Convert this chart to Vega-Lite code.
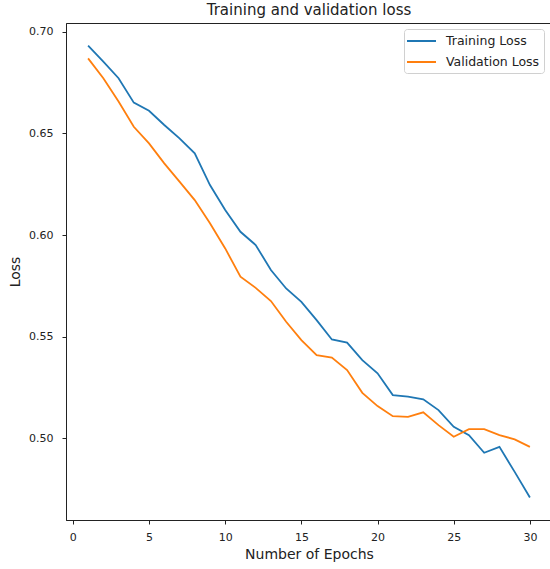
{
  "$schema": "https://vega.github.io/schema/vega-lite/v6.json",
  "width": 486,
  "height": 497,
  "autosize": {"type": "none"},
  "padding": {"left": 66, "top": 23, "right": 0, "bottom": 49},
  "background": "white",
  "title": {"text": "Training and validation loss", "fontSize": 15, "font": "DejaVu Sans", "fontWeight": "normal", "color": "#222", "anchor": "middle", "frame": "group", "offset": 5},
  "data": {"values": [
    {"epoch": 1, "series": "Training Loss", "loss": 0.6933},
    {"epoch": 2, "series": "Training Loss", "loss": 0.6854},
    {"epoch": 3, "series": "Training Loss", "loss": 0.6772},
    {"epoch": 4, "series": "Training Loss", "loss": 0.6652},
    {"epoch": 5, "series": "Training Loss", "loss": 0.6612},
    {"epoch": 6, "series": "Training Loss", "loss": 0.6542},
    {"epoch": 7, "series": "Training Loss", "loss": 0.6476},
    {"epoch": 8, "series": "Training Loss", "loss": 0.6402},
    {"epoch": 9, "series": "Training Loss", "loss": 0.6246},
    {"epoch": 10, "series": "Training Loss", "loss": 0.6123},
    {"epoch": 11, "series": "Training Loss", "loss": 0.6016},
    {"epoch": 12, "series": "Training Loss", "loss": 0.5951},
    {"epoch": 13, "series": "Training Loss", "loss": 0.5828},
    {"epoch": 14, "series": "Training Loss", "loss": 0.5737},
    {"epoch": 15, "series": "Training Loss", "loss": 0.5671},
    {"epoch": 16, "series": "Training Loss", "loss": 0.5581},
    {"epoch": 17, "series": "Training Loss", "loss": 0.5486},
    {"epoch": 18, "series": "Training Loss", "loss": 0.5470},
    {"epoch": 19, "series": "Training Loss", "loss": 0.5384},
    {"epoch": 20, "series": "Training Loss", "loss": 0.5319},
    {"epoch": 21, "series": "Training Loss", "loss": 0.5212},
    {"epoch": 22, "series": "Training Loss", "loss": 0.5204},
    {"epoch": 23, "series": "Training Loss", "loss": 0.5191},
    {"epoch": 24, "series": "Training Loss", "loss": 0.5138},
    {"epoch": 25, "series": "Training Loss", "loss": 0.5056},
    {"epoch": 26, "series": "Training Loss", "loss": 0.5015},
    {"epoch": 27, "series": "Training Loss", "loss": 0.4928},
    {"epoch": 28, "series": "Training Loss", "loss": 0.4957},
    {"epoch": 29, "series": "Training Loss", "loss": 0.4834},
    {"epoch": 30, "series": "Training Loss", "loss": 0.4708},
    {"epoch": 1, "series": "Validation Loss", "loss": 0.6870},
    {"epoch": 2, "series": "Validation Loss", "loss": 0.6772},
    {"epoch": 3, "series": "Validation Loss", "loss": 0.6657},
    {"epoch": 4, "series": "Validation Loss", "loss": 0.6533},
    {"epoch": 5, "series": "Validation Loss", "loss": 0.6451},
    {"epoch": 6, "series": "Validation Loss", "loss": 0.6353},
    {"epoch": 7, "series": "Validation Loss", "loss": 0.6263},
    {"epoch": 8, "series": "Validation Loss", "loss": 0.6172},
    {"epoch": 9, "series": "Validation Loss", "loss": 0.6058},
    {"epoch": 10, "series": "Validation Loss", "loss": 0.5934},
    {"epoch": 11, "series": "Validation Loss", "loss": 0.5795},
    {"epoch": 12, "series": "Validation Loss", "loss": 0.5740},
    {"epoch": 13, "series": "Validation Loss", "loss": 0.5675},
    {"epoch": 14, "series": "Validation Loss", "loss": 0.5573},
    {"epoch": 15, "series": "Validation Loss", "loss": 0.5483},
    {"epoch": 16, "series": "Validation Loss", "loss": 0.5409},
    {"epoch": 17, "series": "Validation Loss", "loss": 0.5397},
    {"epoch": 18, "series": "Validation Loss", "loss": 0.5335},
    {"epoch": 19, "series": "Validation Loss", "loss": 0.5223},
    {"epoch": 20, "series": "Validation Loss", "loss": 0.5158},
    {"epoch": 21, "series": "Validation Loss", "loss": 0.5108},
    {"epoch": 22, "series": "Validation Loss", "loss": 0.5105},
    {"epoch": 23, "series": "Validation Loss", "loss": 0.5127},
    {"epoch": 24, "series": "Validation Loss", "loss": 0.5064},
    {"epoch": 25, "series": "Validation Loss", "loss": 0.5007},
    {"epoch": 26, "series": "Validation Loss", "loss": 0.5044},
    {"epoch": 27, "series": "Validation Loss", "loss": 0.5044},
    {"epoch": 28, "series": "Validation Loss", "loss": 0.5015},
    {"epoch": 29, "series": "Validation Loss", "loss": 0.4994},
    {"epoch": 30, "series": "Validation Loss", "loss": 0.4957}
  ]},
  "mark": {"type": "line", "strokeWidth": 1.8},
  "encoding": {
    "x": {"field": "epoch", "type": "quantitative", "title": "Number of Epochs",
      "scale": {"domain": [-0.45, 31.45], "nice": false, "zero": false},
      "axis": {"values": [0, 5, 10, 15, 20, 25, 30], "format": "d", "titlePadding": 5}},
    "y": {"field": "loss", "type": "quantitative", "title": "Loss",
      "scale": {"domain": [0.4597, 0.7044], "nice": false, "zero": false},
      "axis": {"values": [0.5, 0.55, 0.6, 0.65, 0.7], "format": ".2f", "labelPadding": 9, "titlePadding": 6}},
    "color": {"field": "series", "type": "nominal",
      "scale": {"domain": ["Training Loss", "Validation Loss"], "range": ["#1f77b4", "#ff7f0e"]},
      "legend": {"title": null, "orient": "none", "legendX": 338, "legendY": 6,
        "symbolType": "M-1.29,0H2.86", "symbolSize": 196, "symbolStrokeWidth": 2,
        "labelFontSize": 12.5, "labelOffset": 22, "rowPadding": 6, "padding": 4,
        "strokeColor": "#d0d0d0", "cornerRadius": 3, "fillColor": "white", "labelColor": "#222"}}
  },
  "config": {
    "font": "DejaVu Sans",
    "view": {"stroke": "#222", "strokeWidth": 1},
    "axis": {"grid": false, "domainColor": "#222", "tickColor": "#222", "tickSize": 4,
      "labelFontSize": 11, "labelColor": "#222", "labelPadding": 7, "labelFont": "DejaVu Sans",
      "titleFontSize": 14, "titleFontWeight": "normal", "titleColor": "#222", "titleFont": "DejaVu Sans"},
    "legend": {"labelFont": "DejaVu Sans"}
  }
}
